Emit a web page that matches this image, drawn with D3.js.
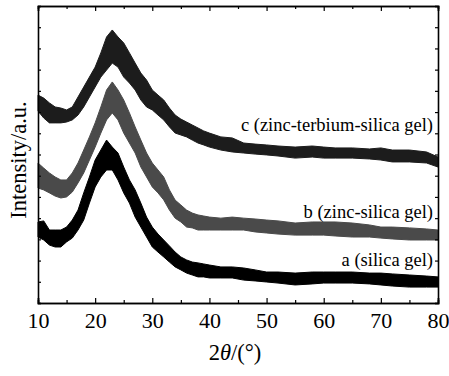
<!DOCTYPE html>
<html>
<head>
<meta charset="utf-8">
<script src="https://cdn.jsdelivr.net/npm/d3@7"></script>
<style>
  body { margin: 0; background: #fff; }
  svg text { font-family: "Liberation Serif", "Times New Roman", serif; fill: #000; }
</style>
</head>
<body>
<svg width="449" height="376"></svg>
<script>
// 2theta positions (degrees) where the band edges were read
var angles = [10,11,12,13,14,15,16,17,18,19,20,21,22,23,24,25,26,27,28,29,30,31,32,33,34,35,36,37,38,39,40,42,44,46,48,50,52,55,58,60,62,65,68,70,72,75,78,80];

// curve a (silica gel): upper / lower edge of the noisy trace, a.u.
var aHigh = [382,387,344,344,344,358,391,438,519,594,674,721,768,735,707,641,580,533,471,405,358,325,297,269,240,217,203,193,189,184,179,170,170,165,156,146,146,141,146,146,146,146,141,141,137,132,127,123];
var aLow  = [311,297,273,264,264,288,306,344,391,471,547,594,627,627,580,519,471,405,358,311,264,240,217,193,170,156,141,132,123,123,118,118,118,108,104,99,94,85,90,94,94,94,90,85,80,75,75,75];

// curve b (zinc-silica gel)
var bHigh = [660,636,613,594,580,580,613,660,721,783,849,924,1004,1042,1004,957,896,830,768,707,660,627,594,533,485,462,438,424,415,410,405,400,405,400,396,391,387,377,382,382,382,377,368,358,358,354,349,344];
var bLow  = [542,533,519,504,495,500,523,566,613,674,735,801,863,896,863,801,754,707,641,594,547,519,486,438,400,382,358,354,344,344,344,344,344,344,335,330,325,320,320,320,316,311,311,306,302,297,297,297];

// curve c (zinc-terbium-silica gel)
var cHigh = [980,966,943,924,919,910,924,971,1018,1065,1112,1179,1254,1287,1254,1226,1179,1131,1084,1051,1004,980,957,919,886,867,853,839,825,811,801,783,778,754,749,745,740,735,740,735,731,731,726,731,721,721,712,688];
var cLow  = [905,872,849,849,849,853,863,886,924,971,1018,1065,1098,1131,1112,1065,1037,1004,957,924,910,886,863,830,801,792,783,768,754,745,735,721,712,707,702,698,693,683,688,683,683,683,679,674,665,665,660,641];

var seriesNames = ["a (silica gel)", "b (zinc-silica gel)", "c (zinc-terbium-silica gel)"];
var seriesColors = ["#000000", "#4a4a4a", "#1c1c1c"];
var xTicks = [10,20,30,40,50,60,70,80];

var svg = d3.select("svg");

var marginLeft = 38, marginRight = 438, marginTop = 6, marginBottom = 303;

var Xscale = d3.scaleLinear().domain([10, 80]).range([marginLeft, marginRight]);
var Yscale = d3.scaleLinear().domain([0, 1400]).range([marginBottom, marginTop]);

// bands
var bands = [[aHigh, aLow], [bHigh, bLow], [cHigh, cLow]];
var area = d3.area()
    .x(function(d){ return Xscale(d.x); })
    .y0(function(d){ return Yscale(d.lo); })
    .y1(function(d){ return Yscale(d.hi); });

bands.forEach(function(b, k)
{
    var pts = angles.map(function(x, i){ return {x: x, hi: b[0][i], lo: b[1][i]}; });
    svg.append("path")
        .datum(pts)
        .attr("d", area)
        .style("fill", seriesColors[k])
        .style("stroke", seriesColors[k])
        .style("stroke-width", 1);
});

//XAxis bottom
var minor = d3.range(15, 80, 10);
svg.append("g").attr("transform", "translate(0," + marginBottom + ")")
    .call(d3.axisBottom(Xscale).tickValues(minor).tickSize(-3).tickFormat(""));
var xaxis = svg.append("g").attr("transform", "translate(0," + marginBottom + ")")
    .call(d3.axisBottom(Xscale).tickValues(xTicks).tickSize(-5).tickPadding(9.5).tickFormat(d3.format("d")));
xaxis.selectAll("text").style("font-size", "22px");

//XAxis top
svg.append("g").attr("transform", "translate(0," + marginTop + ")")
    .call(d3.axisTop(Xscale).tickValues(minor).tickSize(-3).tickFormat(""));
svg.append("g").attr("transform", "translate(0," + marginTop + ")")
    .call(d3.axisTop(Xscale).tickValues(xTicks).tickSize(-5).tickFormat(""));

//YAxis left and right (no labels)
var yTicks = d3.range(0, 1401, 100);
svg.append("g").attr("transform", "translate(" + marginLeft + ",0)")
    .call(d3.axisLeft(Yscale).tickValues(yTicks).tickSize(-3).tickFormat(""));
svg.append("g").attr("transform", "translate(" + marginRight + ",0)")
    .call(d3.axisRight(Yscale).tickValues(yTicks).tickSize(-3).tickFormat(""));

svg.selectAll(".domain").style("stroke-width", 1.6).style("stroke", "#000");
svg.selectAll(".tick line").style("stroke-width", 1.2).style("stroke", "#000");

//Series labels
var labelY = [266, 218, 131];
seriesNames.forEach(function(name, k)
{
    svg.append("text")
        .attr("x", 433)
        .attr("y", labelY[k])
        .style("text-anchor", "end")
        .style("font-size", "18.5px")
        .text(name);
});

//XAxis Label
var xl = svg.append("text")
    .attr("x", 235)
    .attr("y", 360)
    .style("text-anchor", "middle")
    .style("font-size", "22.5px");
xl.append("tspan").text("2");
xl.append("tspan").style("font-style", "italic").text("θ");
xl.append("tspan").text("/(°)");

//YAxis Label
svg.append("text")
    .attr("transform", "translate(26,160) rotate(-90)")
    .style("text-anchor", "middle")
    .style("font-size", "22.5px")
    .text("Intensity/a.u.");
</script>
</body>
</html>
